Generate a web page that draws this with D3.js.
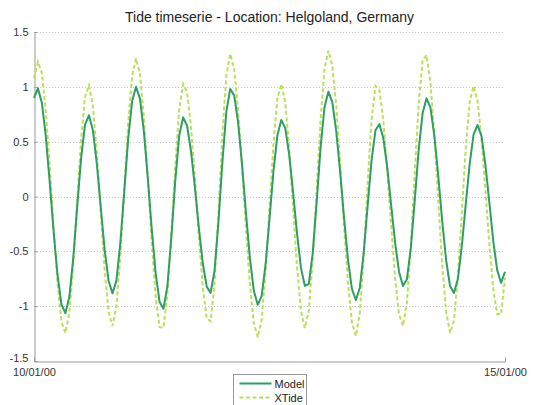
<!DOCTYPE html>
<html>
<head>
<meta charset="utf-8">
<script src="https://cdn.jsdelivr.net/npm/d3@7"></script>
<style>
  body { margin: 0; background: #fff; }
  svg { display: block; font-family: "Liberation Sans", Arial, sans-serif; }
</style>
</head>
<body>
<script>
// hours since 10/01/00 00:00, one sample per hour
const hours = d3.range(0, 121);

const model = [
  0.90, 0.987, 0.856, 0.552, 0.131, -0.321, -0.718, -0.985, -1.064, -0.917,
  -0.562, -0.096, 0.349, 0.656, 0.740, 0.605, 0.299, -0.096, -0.485, -0.768,
  -0.883, -0.767, -0.422, 0.049, 0.525, 0.870, 1.0, 0.892, 0.590, 0.166,
  -0.297, -0.701, -0.963, -1.023, -0.811, -0.369, 0.146, 0.557, 0.722, 0.645,
  0.414, 0.083, -0.284, -0.609, -0.822, -0.879, -0.675, -0.227, 0.314, 0.774,
  0.981, 0.922, 0.675, 0.293, -0.148, -0.559, -0.858, -0.988, -0.907, -0.620,
  -0.203, 0.227, 0.556, 0.698, 0.626, 0.386, 0.043, -0.332, -0.647, -0.815,
  -0.798, -0.521, -0.059, 0.441, 0.814, 0.956, 0.861, 0.595, 0.221, -0.197,
  -0.577, -0.843, -0.944, -0.834, -0.512, -0.085, 0.329, 0.604, 0.660, 0.532,
  0.263, -0.080, -0.421, -0.686, -0.816, -0.755, -0.470, -0.039, 0.423, 0.756,
  0.895, 0.811, 0.554, 0.187, -0.223, -0.581, -0.817, -0.880, -0.749, -0.453,
  -0.069, 0.297, 0.566, 0.652, 0.553, 0.293, -0.050, -0.402, -0.669, -0.788,
  -0.686
];

const xtide = [
  1.078, 1.228, 1.126, 0.782, 0.279, -0.293, -0.796, -1.143, -1.245, -1.061,
  -0.618, -0.033, 0.523, 0.908, 1.013, 0.826, 0.402, -0.143, -0.670, -1.055,
  -1.18, -1.004, -0.548, 0.060, 0.672, 1.101, 1.26, 1.118, 0.722, 0.171,
  -0.418, -0.914, -1.191, -1.197, -0.882, -0.332, 0.287, 0.796, 1.025, 0.951,
  0.635, 0.165, -0.364, -0.827, -1.108, -1.138, -0.791, -0.151, 0.569, 1.105,
  1.30, 1.160, 0.791, 0.279, -0.294, -0.801, -1.157, -1.284, -1.127, -0.693,
  -0.108, 0.476, 0.892, 1.025, 0.864, 0.452, -0.094, -0.639, -1.040, -1.20,
  -1.044, -0.578, 0.052, 0.695, 1.163, 1.33, 1.195, 0.828, 0.302, -0.281,
  -0.791, -1.150, -1.272, -1.065, -0.544, 0.118, 0.700, 1.008, 0.969, 0.691,
  0.245, -0.273, -0.741, -1.072, -1.18, -0.971, -0.453, 0.217, 0.842, 1.238,
  1.290, 1.039, 0.558, -0.038, -0.621, -1.048, -1.245, -1.130, -0.722, -0.145,
  0.444, 0.865, 1.007, 0.872, 0.529, 0.065, -0.426, -0.841, -1.072, -1.075,
  -0.74
];

const yTicks = [-1.5, -1, -0.5, 0, 0.5, 1, 1.5];
const xTickHours = [0, 120];
const xTickLabels = ["10/01/00", "15/01/00"];
const seriesNames = ["Model", "XTide"];

const W = 533, H = 405;
const margin = { top: 32, right: 28, bottom: 44, left: 34 };
const width = W - margin.left - margin.right;
const height = H - margin.top - margin.bottom;

const svg = d3.select("body").append("svg")
  .attr("width", W)
  .attr("height", H);

const g = svg.append("g")
  .attr("transform", `translate(${margin.left},${margin.top})`);

const x = d3.scaleLinear().domain([0, 120]).range([0, width]);
const y = d3.scaleLinear().domain([-1.5, 1.5]).range([height, 0]);

// dotted grid
g.append("g")
  .selectAll("line")
  .data(yTicks.filter(d => d > -1.5))
  .join("line")
  .attr("x1", 0)
  .attr("x2", width)
  .attr("y1", d => Math.round(y(d)) + 0.5)
  .attr("y2", d => Math.round(y(d)) + 0.5)
  .attr("stroke", "#c8c8c8")
  .attr("stroke-width", 1)
  .attr("stroke-dasharray", "1,2");

// y axis
const yAxis = d3.axisLeft(y)
  .tickValues(yTicks)
  .tickFormat(d3.format("~g"))
  .tickSizeInner(-3)
  .tickSizeOuter(0)
  .tickPadding(6);

const yg = g.append("g")
  .attr("transform", "translate(0.5,0)")
  .call(yAxis);
yg.select(".domain").attr("stroke", "#999");
yg.selectAll(".tick line").attr("stroke", "#999");
yg.selectAll(".tick text")
  .attr("fill", "#333")
  .attr("font-size", "11px")
  .attr("font-family", "Liberation Sans, Arial, sans-serif")
  .attr("y", d => d === -1.5 ? -3 : 0)
  .text(d => d3.format("~g")(d).replace("\u2212", "-"));

// x axis
const xAxis = d3.axisBottom(x)
  .tickValues(xTickHours)
  .tickFormat((d, i) => xTickLabels[i])
  .tickSizeInner(-4)
  .tickSizeOuter(0)
  .tickPadding(7);

const xg = g.append("g")
  .attr("transform", `translate(0,${height + 0.5})`)
  .call(xAxis);
xg.select(".domain").attr("stroke", "#999");
xg.selectAll(".tick line").attr("stroke", "#999");
xg.selectAll(".tick text")
  .attr("fill", "#333")
  .attr("font-size", "11px")
  .attr("font-family", "Liberation Sans, Arial, sans-serif");

// lines
const line = d3.line()
  .x((d, i) => x(hours[i]))
  .y(d => y(d));

g.append("path")
  .datum(xtide)
  .attr("fill", "none")
  .attr("stroke", "#bbdf5c")
  .attr("stroke-width", 2)
  .attr("stroke-dasharray", "4,2.5")
  .attr("d", line);

g.append("path")
  .datum(model)
  .attr("fill", "none")
  .attr("stroke", "#2e9e62")
  .attr("stroke-width", 2)
  .attr("stroke-linejoin", "round")
  .attr("d", line);

// title
svg.append("text")
  .attr("x", margin.left + width / 2)
  .attr("y", 22)
  .attr("text-anchor", "middle")
  .attr("font-size", "14px")
  .attr("fill", "#222")
  .text("Tide timeserie - Location: Helgoland, Germany");

// legend
const legend = svg.append("g")
  .attr("transform", "translate(233.5,374.5)");

legend.append("rect")
  .attr("width", 73)
  .attr("height", 40)
  .attr("fill", "#fff")
  .attr("stroke", "#999");

const styles = [
  { color: "#2e9e62", dash: null },
  { color: "#bbdf5c", dash: "4,2.5" }
];

seriesNames.forEach((name, i) => {
  const ly = 9 + i * 14;
  legend.append("line")
    .attr("x1", 6)
    .attr("x2", 38)
    .attr("y1", ly)
    .attr("y2", ly)
    .attr("stroke", styles[i].color)
    .attr("stroke-width", 2)
    .attr("stroke-dasharray", styles[i].dash);
  legend.append("text")
    .attr("x", 41)
    .attr("y", ly + 4)
    .attr("font-size", "11px")
    .attr("fill", "#222")
    .text(name);
});
</script>
</body>
</html>
